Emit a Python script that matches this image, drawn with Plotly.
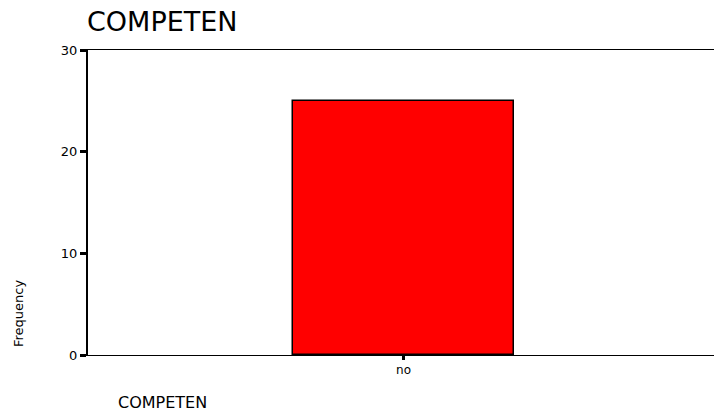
import plotly.graph_objects as go

categories = ["no"]
counts = [25]
y_ticks = [0, 10, 20, 30]

W, H = 714, 415
L, T, B, R = 88, 50, 60, 0
pw, ph = W - L - R, H - T - B

fig = go.Figure()
fig.add_trace(go.Bar(
    x=categories, y=counts, width=0.352,
    marker=dict(color="#ff0000", line=dict(color="#000000", width=1.5)),
))

wide = "DejaVu Sans, Verdana, sans-serif"
fig.update_layout(
    width=W, height=H,
    margin=dict(l=L, r=R, t=T, b=B, autoexpand=False),
    plot_bgcolor="white", paper_bgcolor="white",
    showlegend=False,
    font=dict(family=wide, color="black"),
    title=dict(text="COMPETEN", x=87/W, xref="container", xanchor="left",
               y=1-22/H, yref="container", yanchor="middle",
               font=dict(size=27, color="black", family=wide)),
    bargap=0,
)
fig.update_xaxes(range=[-0.504, 0.496], showline=True, linecolor="black", linewidth=1,
                 mirror=True, ticks="outside", ticklen=4, tickwidth=3, tickcolor="black",
                 tickfont=dict(size=12, color="black", family=wide),
                 showgrid=False, zeroline=False, automargin=False)
fig.update_yaxes(range=[0, 30], tickvals=y_ticks, showline=True, linecolor="black", linewidth=2,
                 ticks="outside", ticklen=6, tickwidth=3, tickcolor="black",
                 tickfont=dict(size=13, color="black", family=wide),
                 showgrid=False, zeroline=False, automargin=False)

fig.add_annotation(text="COMPETEN", xref="paper", yref="paper", x=(116-L)/pw, y=(355-414)/ph,
                   xanchor="left", yanchor="bottom", showarrow=False,
                   font=dict(size=16, color="black", family=wide))
fig.add_annotation(text="Frequency", xref="paper", yref="paper", x=(18-L)/pw, y=(355-314)/ph,
                   xanchor="center", yanchor="middle", textangle=-90, showarrow=False,
                   font=dict(size=13, color="black", family=wide))

fig.write_html("out.html", config={"displayModeBar": False},
               post_script="document.body.style.margin='0';")
